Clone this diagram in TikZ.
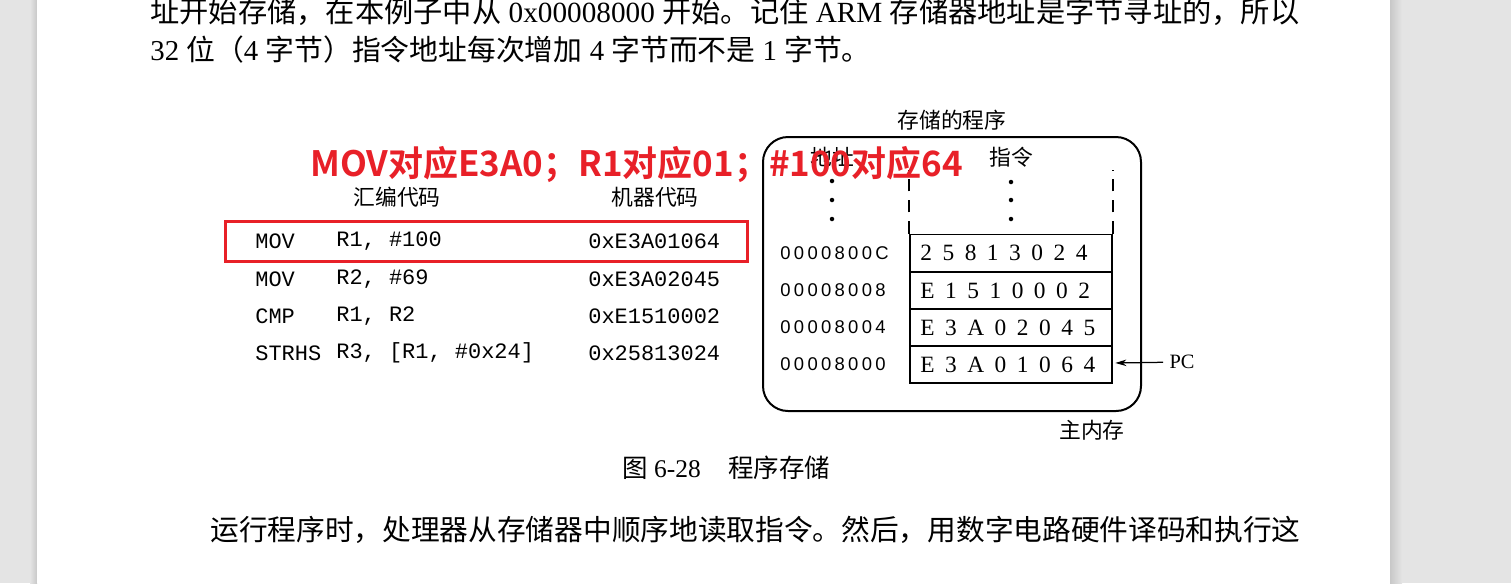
\documentclass[tikz,border=0pt]{standalone}
\usepackage{fontspec}
\setmainfont{Liberation Serif}
\setmonofont{Liberation Mono}
\newfontfamily\cjk{Noto Sans CJK SC}
\newfontfamily\cjkbf{Noto Sans CJK SC Bold}
\newfontfamily\addrfont[LetterSpace=18]{Liberation Sans}
\newfontfamily\cellfont[LetterSpace=45]{Liberation Serif}
\usetikzlibrary{arrows.meta}

\definecolor{pagegray}{RGB}{228,228,228}
\definecolor{shadegray}{RGB}{200,200,200}
\definecolor{markred}{RGB}{232,32,40}

\tikzset{
  bodytext/.style={anchor=west, inner sep=0pt, font=\fontsize{16.4}{20}\selectfont},
  headtext/.style={inner sep=0pt, font=\cjk\fontsize{12.4}{15}\selectfont},
  asm/.style={anchor=west, inner sep=0pt, font=\ttfamily\fontsize{12.5}{15}\selectfont},
  addr/.style={anchor=west, inner sep=0pt, font=\addrfont\fontsize{10.5}{13}\selectfont},
  cell/.style={draw, line width=0.035cm, minimum width=4.04cm, minimum height=0.745cm, inner sep=0pt},
  hexdig/.style={anchor=west, inner sep=0pt, font=\cellfont\fontsize{13.3}{15}\selectfont},
}

\begin{document}
\begin{tikzpicture}[x=0.02cm, y=-0.02cm]
\useasboundingbox (0,0) rectangle (1511,583);

% Drawing the page
\fill[pagegray] (0,0) rectangle (1511,583);
\fill[left color=pagegray, right color=shadegray] (30,0) rectangle (37,583);
\fill[left color=shadegray, right color=pagegray] (1390,0) rectangle (1402,583);
\fill[white] (37,0) rectangle (1390,583);

% Running text above
\node[bodytext, font=\fontsize{16.65}{20}\selectfont] (line1) at (150,12) {{\cjk 址开始存储，在本例子中从} 0x00008000 {\cjk 开始。记住} ARM {\cjk 存储器地址是字节寻址的，所以}};
\node[bodytext] (line2) at (150,50) {32 {\cjk 位（}4 {\cjk 字节）指令地址每次增加} 4 {\cjk 字节而不是} 1 {\cjk 字节。}};

% Assembly and machine code
\node[headtext] (asmhead) at (397,197) {汇编代码};
\node[headtext] (mchead) at (655,197) {机器代码};

\node[asm] (op0) at (255,241) {MOV};
\node[asm] (arg0) at (336,241) {R1, \#100};
\node[asm] (mc0) at (588,241) {0xE3A01064};

\node[asm] (op1) at (255,279) {MOV};
\node[asm] (arg1) at (336,279) {R2, \#69};
\node[asm] (mc1) at (588,279) {0xE3A02045};

\node[asm] (op2) at (255,316) {CMP};
\node[asm] (arg2) at (336,316) {R1, R2};
\node[asm] (mc2) at (588,316) {0xE1510002};

\node[asm] (op3) at (255,353) {STRHS};
\node[asm] (arg3) at (336,353) {R3, [R1, \#0x24]};
\node[asm] (mc3) at (588,353) {0x25813024};

% Stored program
\node[headtext] (progtitle) at (952,120) {存储的程序};
\draw[line width=0.04cm, rounded corners=0.5cm] (763,137) rectangle (1141,411);
\node[headtext] (addrhead) at (832,157) {地址};
\node[headtext] (instrhead) at (1011,157) {指令};

% Marking the dots
\fill (832,181) circle (0.045cm);
\fill (832,200) circle (0.045cm);
\fill (832,219) circle (0.045cm);
\fill (1011,182) circle (0.045cm);
\fill (1011,200) circle (0.045cm);
\fill (1011,219) circle (0.045cm);

% Memory words
\node[cell] (m3) at (1011,253) {};
\node[cell] (m2) at (1011,290.5) {};
\node[cell] (m1) at (1011,327.5) {};
\node[cell] (m0) at (1011,364.5) {};

\draw[line width=0.035cm, dash pattern=on 7pt off 5pt] (m3.north west) -- ++(0,-64);
\draw[line width=0.035cm, dash pattern=on 7pt off 5pt] (m3.north east) -- ++(0,-64);

\node[hexdig] (w3) at (920,253) {25813024};
\node[hexdig] (w2) at (920,290.5) {E1510002};
\node[hexdig] (w1) at (920,327.5) {E3A02045};
\node[hexdig] (w0) at (920,364.5) {E3A01064};

\node[addr] (a3) at (780,253) {0000800C};
\node[addr] (a2) at (780,290.5) {00008008};
\node[addr] (a1) at (780,327.5) {00008004};
\node[addr] (a0) at (780,364.5) {00008000};

% Program counter
\node[inner sep=0pt, font=\fontsize{11.6}{14}\selectfont] (pc) at (1182,362) {PC};
\draw[line width=0.025cm, shorten <=0.12cm, shorten >=0.05cm, -{Stealth[length=0.22cm, width=0.13cm]}] (pc) -- (m0);

\node[headtext] (mainmem) at (1092,430) {主内存};

% Caption
\node[bodytext, font=\fontsize{14.5}{17}\selectfont] (cap1) at (622,468) {{\cjk 图} 6-28};
\node[bodytext, font=\cjk\fontsize{14.5}{17}\selectfont] (cap2) at (728,468) {程序存储};

% Running text below
\node[bodytext, font=\cjk\fontsize{16.33}{20}\selectfont] (line3) at (210,530) {运行程序时，处理器从存储器中顺序地读取指令。然后，用数字电路硬件译码和执行这};

% Red annotation
\draw[markred, line width=0.06cm] (225,221) rectangle (747,261);
\node[anchor=west, inner sep=0pt, text=markred, font=\cjkbf\fontsize{19.9}{24}\selectfont] (note) at (310,165) {MOV对应E3A0；R1对应01；\#100对应64};

\end{tikzpicture}
\end{document}
